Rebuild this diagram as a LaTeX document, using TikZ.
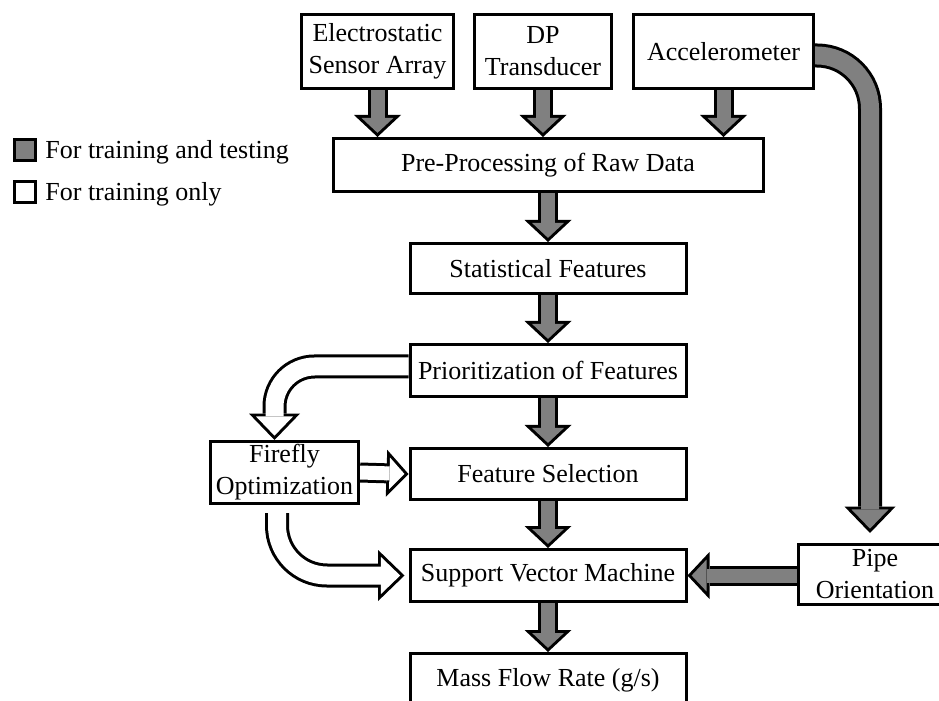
\documentclass[tikz,border=0pt]{standalone}
\usepackage{fontspec}
\setmainfont{Liberation Serif}
\usetikzlibrary{arrows.meta}
\usetikzlibrary{calc}
\usetikzlibrary{backgrounds}
\definecolor{flowgray}{RGB}{128, 128, 128}

\tikzset{
  block/.style={draw, line width=1.5pt, fill=white, align=center, inner sep=0pt,
                font=\fontsize{13}{16}\selectfont},
  % thin block arrow, #1 = fill
  flowarrow/.style={draw=#1, line width=7pt,
                    -{Triangle[width=15.9pt, length=7.45pt, line width=0pt]}, shorten >=2.05pt,
                    preaction={draw=black, line width=10pt, shorten >=0pt,
                    -{Triangle[width=23.5pt, length=11pt, line width=0pt]}}},
  % wide block arrow, #1 = fill
  bigarrow/.style={draw=#1, line width=9pt,
                   -{Triangle[width=18.5pt, length=9.6pt, line width=0pt]}, shorten >=2.16pt,
                   preaction={draw=black, line width=12pt, shorten >=0pt,
                   -{Triangle[width=25.5pt, length=13.2pt, line width=0pt]}}},
  legendbox/.style={draw, line width=1.5pt, minimum size=10.5pt, inner sep=0pt},
  legendtext/.style={anchor=west, inner sep=0pt, font=\fontsize{13}{16}\selectfont}
}

\begin{document}
\begin{tikzpicture}[x=0.5pt, y=-0.5pt]
            \useasboundingbox (0,0) rectangle (939,701);
            \clip (0,0) rectangle (939,701);
            % Sensors
            \node[block, minimum width=76pt,  minimum height=37pt] (esa)  at (377.5, 51.5) {Electrostatic\\Sensor Array};
            \node[block, minimum width=68.5pt, minimum height=37pt] (dp)  at (543, 51.5)   {DP\\Transducer};
            \node[block, minimum width=90pt,  minimum height=37pt] (acc)  at (723.5, 51.5) {Accelerometer};
            % Main chain
            \node[block, minimum width=215pt, minimum height=26.5pt] (pre)  at (548, 165)   {Pre-Processing of Raw Data};
            \node[block, minimum width=138pt, minimum height=25pt]   (stat) at (548, 268.5) {Statistical Features};
            \node[block, minimum width=138pt, minimum height=26pt]   (prio) at (548, 370.5) {Prioritization of Features};
            \node[block, minimum width=138pt, minimum height=25.5pt] (fsel) at (548, 474)   {Feature Selection};
            \node[block, minimum width=138pt, minimum height=26pt]   (svm)  at (548, 575.5) {Support Vector Machine};
            \node[block, minimum width=138pt, minimum height=26.5pt] (mfr)  at (548, 680)   {Mass Flow Rate (g/s)};
            % Side boxes
            \node[block, minimum width=74pt,  minimum height=31pt]   (fire) at (284.5, 472.5) {Firefly\\Optimization};
            \node[block, minimum width=77pt, minimum height=30pt]    (pipe) at (875, 574.5)  {Pipe\\Orientation};
            % Legend
            \node[legendbox, fill=flowgray] (leggray)  at (24.5, 150.5) {};
            \node[legendbox, fill=white]    (legwhite) at (24.5, 192.5) {};
            \node[legendtext] (leggraytxt)  at (45, 152) {For training and testing};
            \node[legendtext] (legwhitetxt) at (45, 194) {For training only};

            \begin{scope}[on background layer]
            % Training and testing
            \draw[flowarrow=flowgray] (esa.south) -- (esa.south |- pre.north);
            \draw[flowarrow=flowgray] (dp.south)  -- (dp.south |- pre.north);
            \draw[flowarrow=flowgray] (acc.south) -- (acc.south |- pre.north);
            \draw[flowarrow=flowgray] (pre.south)  -- (stat.north);
            \draw[flowarrow=flowgray] (stat.south) -- (prio.north);
            \draw[flowarrow=flowgray] (prio.south) -- (fsel.north);
            \draw[flowarrow=flowgray] (fsel.south) -- (svm.north);
            \draw[flowarrow=flowgray] (svm.south)  -- (mfr.north);
            \draw[flowarrow=flowgray] (pipe.west |- svm.east) -- (svm.east);
            \draw[bigarrow=flowgray, rounded corners=26.5pt] ([yshift=-2pt]acc.east) -| ([xshift=-2.5pt, yshift=5pt]pipe.north);
            % Training only
            \draw[bigarrow=white, rounded corners=20pt] ([yshift=2pt]prio.west) -| ([xshift=-5pt]fire.north);
            \draw[flowarrow=white] (fire.east) -- (fsel.west);
            \draw[bigarrow=white, rounded corners=25pt, shorten <=1.5pt,
                  preaction={shorten <=0pt}] ([xshift=-3.75pt, yshift=-2.5pt]fire.south) |- ([xshift=-2pt]svm.west);
            \end{scope}
        \end{tikzpicture}
\end{document}
